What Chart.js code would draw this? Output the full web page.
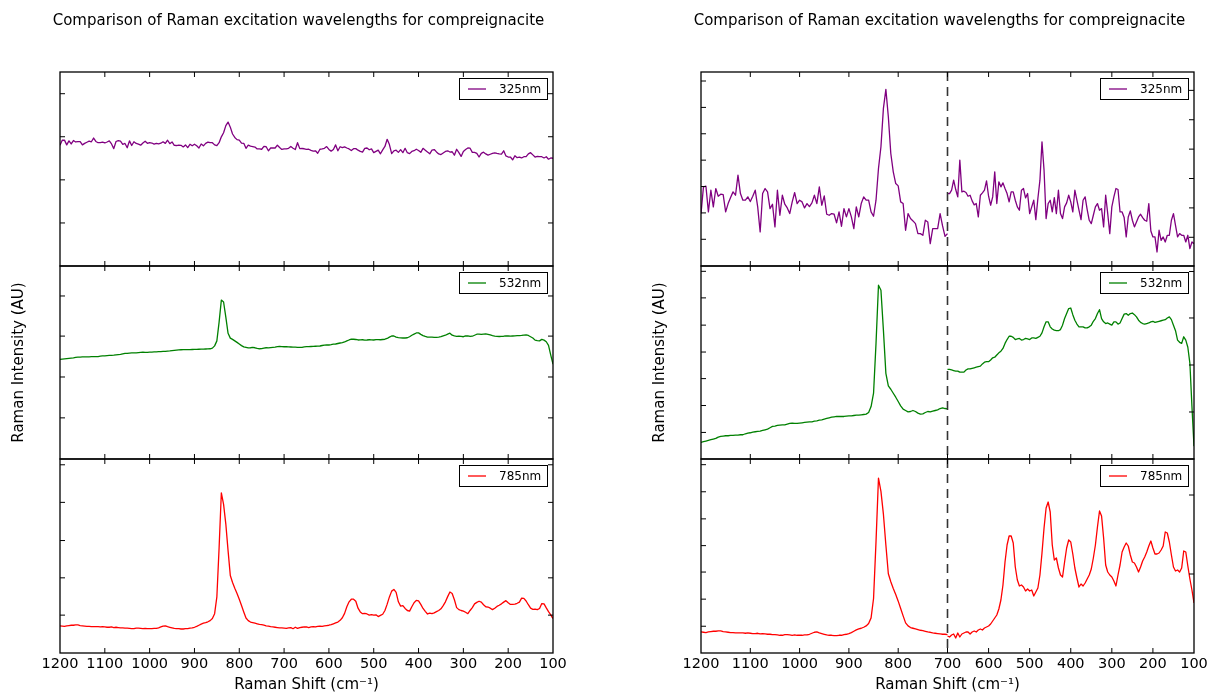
<!DOCTYPE html>
<html>
<head>
<meta charset="utf-8">
<script src="https://cdn.jsdelivr.net/npm/chart.js@4/dist/chart.umd.min.js"></script>
<style>
  html, body { margin: 0; padding: 0; background: #fff; overflow: hidden; }
  body { width: 1209px; height: 692px; position: relative; }
  canvas { position: absolute; }
</style>
</head>
<body>
<script>
// Raman shift grid (cm-1), 1200 down to 100 in 5 cm-1 steps
const shifts = Array.from({ length: 221 }, (_, i) => 1200 - 5 * i);

// Intensities (AU) on the shift grid, one array per excitation line
const int325 = [
  280,360,362,285,350,300,355,332,338,337, 285,310,328,345,335,395,340,320,320,330,
  316,332,350,300,225,340,355,345,295,308, 240,350,275,335,308,297,280,315,343,310,
  320,315,297,310,301,312,335,310,360,305, 333,278,275,280,278,252,285,242,295,270,
  295,270,235,300,270,310,330,320,320,285, 272,320,415,480,595,652,570,460,405,370,
  363,315,310,230,280,265,258,250,220,220, 215,260,255,190,235,235,235,280,243,212,
  220,
  220,230,260,232,210,320,225,227,223,212, 215,198,186,190,150,215,222,230,258,212,
  185,210,285,190,255,240,252,235,220,195, 225,225,200,180,170,230,235,207,220,160,
  180,200,142,205,260,375,290,145,190,200, 165,208,160,230,160,145,180,192,215,195,
  165,230,200,170,142,200,210,172,140,130, 155,180,190,170,175,120,215,160,100,180,
  210,235,232,165,165,148,90,150,168,140,  120,135,150,158,148,140,137,190,108,90,
  90,45,110,80,90,75,95,95,140,160,        125,90,100,95,95,75,95,55,75,70
];
const int532 = [
  102,104,106,108,110,112,114,118,120,121, 122,122,123,123,124,124,125,125,128,130,
  131,133,134,135,136,138,140,142,146,150, 151,153,154,155,155,157,159,160,159,159,
  160,161,162,163,164,164,166,167,169,170, 172,174,176,178,179,180,180,180,180,181,
  182,182,183,184,184,185,186,187,192,210, 250,400,575,560,440,310,272,262,250,238,
  225,212,202,198,194,195,198,195,190,187, 188,192,195,194,196,198,200,204,206,204,
  203,
  203,202,201,200,200,198,198,198,202,204, 204,205,206,207,208,209,213,216,217,217,
  220,224,225,229,233,236,241,250,257,263, 263,261,257,258,259,256,257,259,258,257,
  260,260,259,261,263,269,280,289,289,280, 276,274,273,273,275,283,295,304,313,314,
  302,292,285,280,280,280,278,278,280,283, 290,295,304,311,295,289,286,287,285,283,
  289,289,285,287,295,303,304,301,304,305, 302,298,292,288,286,285,286,287,289,290,
  288,289,290,291,292,293,296,298,293,283, 273,256,252,250,262,256,243,214,136,64
];
const int785 = [
  70,69,68,70,71,72,72,73,73,71, 70,69,68,68,67,67,67,67,66,67,
  66,65,65,66,64,65,64,63,63,62, 62,61,60,60,62,62,61,60,61,60,
  60,60,61,61,63,66,69,70,67,65, 63,61,60,60,59,59,60,60,62,63,
  65,68,72,76,79,81,84,88,95,112, 170,340,530,490,422,330,244,220,200,182,
  162,140,118,97,88,83,81,79,77,75, 74,72,70,69,67,66,65,64,63,63,
  62,
  61,63,64,60,65,61,64,65,66,66, 64,66,67,66,68,69,68,70,71,72,
  74,77,80,83,89,98,113,136,153,162, 162,155,131,118,112,113,111,107,109,107,
  108,102,106,110,123,145,170,190,196,186, 153,138,140,130,123,121,136,150,158,156,
  144,130,120,111,114,112,115,119,123,129, 140,153,171,187,182,160,133,126,123,121,
  117,112,123,133,146,151,155,152,143,136, 135,131,126,131,137,141,146,152,157,150,
  144,144,145,148,152,166,165,156,143,131, 127,128,126,130,147,146,132,119,108,95
];

const seriesLabels = ['325nm', '532nm', '785nm'];
const seriesColors = ['#800080', '#008000', '#ff0000'];
const shiftTicks = [1200, 1100, 1000, 900, 800, 700, 600, 500, 400, 300, 200, 100];
const breakShift = 700;

// y ranges and tick values: whole-range column
const fullRange = [[-1662, 1457], [-692, 847], [-24, 647]];
const fullTicks = [[-970, -277, 416, 1108], [-364, -38, 288, 608], [107, 236, 365, 497, 627]];
// split column: high-shift part (1200-700) and low-shift part (700-100), each scaled on its own
const hiRange = [[123, 704], [52, 633], [7, 587]];
const hiTicks = [[203, 282, 361, 440, 519, 598, 677], [132, 213, 294, 374, 455, 537, 617], [87, 168, 249, 328, 408, 489, 570]];
const loRange = [[3, 584], [41, 390], [45, 239]];
const loTicks = [[89, 177, 265, 353, 441, 529], [126, 211, 296, 380], [124, 203]];

const titleText = 'Comparison of Raman excitation wavelengths for compreignacite';
const FONT = '"DejaVu Sans", sans-serif';
Chart.defaults.font.family = FONT;
Chart.defaults.color = '#000';

// Linear shift axis with a break: 1200..700 fills the left half, 700..100 the right half
const LinearScale = Chart.registry.getScale('linear');
class BrokenShiftScale extends LinearScale {
  getPixelForValue(value) {
    if (value === null || value === undefined) return NaN;
    const b = this.options.breakAt;
    const mid = (this.left + this.right) / 2;
    if (value >= b) return this.left + (this.max - value) / (this.max - b) * (mid - this.left);
    return mid + (b - value) / (b - this.min) * (this.right - mid);
  }
  getValueForPixel(pixel) {
    const b = this.options.breakAt;
    const mid = (this.left + this.right) / 2;
    if (pixel <= mid) return this.max - (pixel - this.left) / (mid - this.left) * (this.max - b);
    return b - (pixel - mid) / (this.right - mid) * (b - this.min);
  }
}
BrokenShiftScale.id = 'brokenShift';
BrokenShiftScale.defaults = {};
Chart.register(BrokenShiftScale);

// Frame, inward tick marks, break line and legend box for each panel
const panelDecor = {
  id: 'panelDecor',
  afterDatasetsDraw(chart, _args, o) {
    const { ctx, chartArea: a, scales } = chart;
    const TL = 5;
    ctx.save();
    if (o.breakAt != null) {
      const xb = scales.x.getPixelForValue(o.breakAt);
      ctx.strokeStyle = '#333';
      ctx.lineWidth = 1.6;
      ctx.setLineDash([9, 6]);
      ctx.beginPath(); ctx.moveTo(xb, a.top); ctx.lineTo(xb, a.bottom); ctx.stroke();
      ctx.setLineDash([]);
    }
    ctx.strokeStyle = '#000';
    ctx.lineWidth = 1;
    ctx.beginPath();
    for (const v of o.xTicks) {
      if (v === scales.x.min || v === scales.x.max) continue;
      const x = scales.x.getPixelForValue(v);
      ctx.moveTo(x, a.top); ctx.lineTo(x, a.top + TL);
      ctx.moveTo(x, a.bottom); ctx.lineTo(x, a.bottom - TL);
    }
    for (const v of o.leftTicks) {
      const y = scales.yL.getPixelForValue(v);
      ctx.moveTo(a.left, y); ctx.lineTo(a.left + TL, y);
    }
    for (const v of o.rightTicks) {
      const y = scales[o.rightAxis].getPixelForValue(v);
      ctx.moveTo(a.right, y); ctx.lineTo(a.right - TL, y);
    }
    ctx.stroke();
    ctx.lineWidth = 1.3;
    ctx.strokeRect(a.left, a.top, a.width, a.height);

    const bw = 88, bh = 21;
    const bx = Math.round(a.right - 6 - bw), by = Math.round(a.top + 6);
    ctx.fillStyle = '#fff';
    ctx.fillRect(bx, by, bw, bh);
    ctx.lineWidth = 1;
    ctx.strokeStyle = '#000';
    ctx.strokeRect(bx + 0.5, by + 0.5, bw, bh);
    const ds = chart.data.datasets[0];
    ctx.strokeStyle = ds.borderColor;
    ctx.lineWidth = 1.3;
    ctx.beginPath(); ctx.moveTo(bx + 9, by + bh / 2 + 0.5); ctx.lineTo(bx + 27, by + bh / 2 + 0.5); ctx.stroke();
    ctx.fillStyle = '#000';
    ctx.font = '12px ' + FONT;
    ctx.textBaseline = 'middle';
    ctx.textAlign = 'left';
    ctx.fillText(ds.label, bx + 40, by + bh / 2 + 1);
    ctx.restore();
  }
};

const allSeries = [int325, int532, int785];
const rowTops = [72, 266, 459];
const rowBottoms = [266, 459, 653];
const PLOT_W = 493;

function buildPanel(col, row) {
  const split = col === 1;
  const areaLeft = split ? 701 : 60;
  const H = rowBottoms[row] - rowTops[row];
  let padL = 0, padR = 3, padT = 3, padB = 3, yW = 0, xH = 0, titleH = 0;
  if (row === 0) { yW = 16; padT = 0; titleH = 72; }
  if (row === 1) { yW = 60; }
  if (row === 2) { padL = 30; padR = 30; padB = 0; xH = 41; }

  const canvas = document.createElement('canvas');
  const cw = padL + yW + PLOT_W + padR;
  const ch = padT + titleH + H + xH + padB;
  canvas.width = cw; canvas.height = ch;
  canvas.style.left = (areaLeft - padL - yW) + 'px';
  canvas.style.top = (rowTops[row] - padT - titleH) + 'px';
  document.body.appendChild(canvas);

  const values = allSeries[row];
  const pts = shifts.map((s, i) => ({ x: s, y: values[i] }));
  const lineStyle = {
    label: seriesLabels[row], borderColor: seriesColors[row], borderWidth: 1.3,
    pointRadius: 0, fill: false, tension: 0, borderJoinStyle: 'round'
  };
  const datasets = split
    ? [{ ...lineStyle, data: pts.filter(p => p.x >= breakShift), yAxisID: 'yL' },
       { ...lineStyle, data: pts.filter(p => p.x <= breakShift), yAxisID: 'yR' }]
    : [{ ...lineStyle, data: pts, yAxisID: 'yL' }];

  const leftRange = split ? hiRange[row] : fullRange[row];
  const scales = {
    x: {
      type: split ? 'brokenShift' : 'linear',
      breakAt: breakShift,
      min: 100, max: 1200, reverse: !split,
      display: row === 2,
      afterBuildTicks: s => { s.ticks = shiftTicks.map(v => ({ value: v })); },
      afterFit: s => { s.height = xH; },
      grid: { display: false, drawTicks: false },
      border: { display: false },
      ticks: { font: { size: 14.5 }, color: '#000', padding: 3, maxRotation: 0, minRotation: 0, autoSkip: false, callback: v => String(v) },
      title: { display: true, text: 'Raman Shift (cm\u207B\u00B9)', font: { size: 15, lineHeight: 1.2 }, color: '#000', padding: { top: 0, bottom: 0 } }
    },
    yL: {
      type: 'linear', position: 'left',
      min: leftRange[0], max: leftRange[1],
      display: row !== 2,
      afterFit: s => { s.width = yW; },
      grid: { display: false, drawTicks: false },
      border: { display: false },
      ticks: { display: false },
      title: { display: row === 1, text: 'Raman Intensity (AU)', font: { size: 15, lineHeight: 1.2 }, color: '#000', padding: { top: 10, bottom: 0 } }
    }
  };
  if (split) {
    scales.yR = {
      type: 'linear', position: 'right',
      min: loRange[row][0], max: loRange[row][1],
      display: false
    };
  }

  new Chart(canvas, {
    type: 'line',
    data: { datasets },
    options: {
      responsive: false,
      animation: false,
      devicePixelRatio: 1,
      events: [],
      layout: { padding: { left: padL, right: padR, top: padT, bottom: padB } },
      scales,
      plugins: {
        legend: { display: false },
        tooltip: { enabled: false },
        title: {
          display: row === 0, text: titleText, color: '#000',
          font: { size: 15, weight: 'normal', lineHeight: 1.2 },
          padding: { top: 11.7, bottom: 42.3 }
        },
        panelDecor: {
          breakAt: split ? breakShift : null,
          xTicks: shiftTicks,
          leftTicks: split ? hiTicks[row] : fullTicks[row],
          rightTicks: split ? loTicks[row] : fullTicks[row],
          rightAxis: split ? 'yR' : 'yL'
        }
      }
    },
    plugins: [panelDecor]
  });
}

for (let col = 0; col < 2; col++) {
  for (let row = 0; row < 3; row++) buildPanel(col, row);
}
</script>
</body>
</html>
